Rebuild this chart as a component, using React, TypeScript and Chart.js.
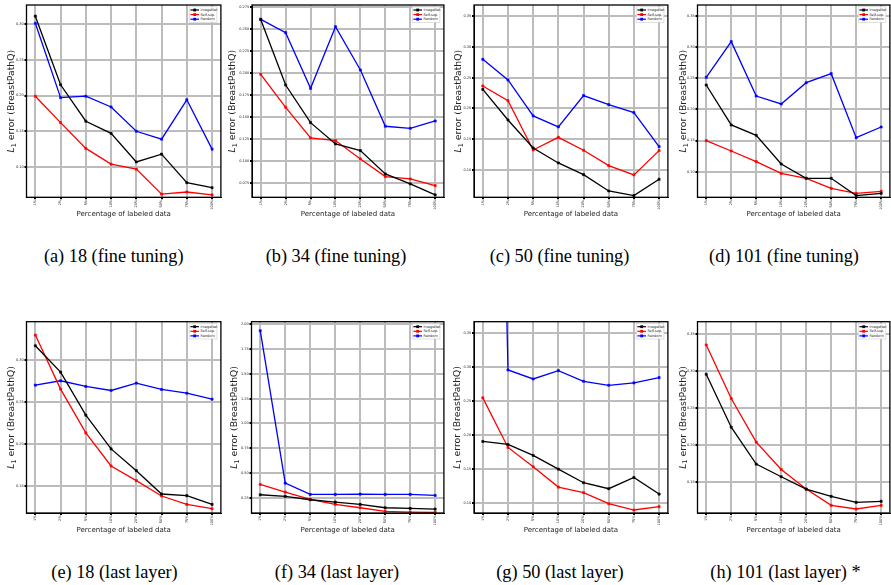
import React, { useEffect, useRef } from 'react';
import { Chart, registerables } from 'chart.js';
Chart.register(...registerables);

// ---------- data ----------
const percentLabels = ['1%', '2%', '5%', '10%', '20%', '50%', '75%', '100%'];
const seriesNames = ['ImageNet', 'Self-sup.', 'Random'];
const seriesColors = ['#000000', '#ff0000', '#0000ff'];

// (a) 18 (fine tuning)
const imagenetA = [0.311, 0.215, 0.164, 0.147, 0.107, 0.118, 0.078, 0.071];
const selfSupA = [0.199, 0.162, 0.126, 0.104, 0.097, 0.062, 0.065, 0.061];
const randomA = [0.301, 0.197, 0.199, 0.184, 0.150, 0.139, 0.194, 0.125];
const yTicksA = [0.1, 0.15, 0.2, 0.25, 0.3];
const yRangeA = [0.0576, 0.3266];

// (b) 34 (fine tuning)
const imagenetB = [0.2613, 0.1866, 0.1437, 0.1195, 0.1119, 0.0853, 0.074, 0.0614];
const selfSupB = [0.1988, 0.1612, 0.1263, 0.1233, 0.1024, 0.0823, 0.0796, 0.072];
const randomB = [0.2613, 0.2462, 0.1828, 0.253, 0.2037, 0.1396, 0.1373, 0.1456];
const yTicksB = [0.075, 0.1, 0.125, 0.15, 0.175, 0.2, 0.225, 0.25, 0.275];
const yRangeB = [0.0587, 0.2777];

// (c) 50 (fine tuning)
const imagenetC = [0.2312, 0.1813, 0.1358, 0.1114, 0.0924, 0.0658, 0.0582, 0.0848];
const selfSupC = [0.2367, 0.2128, 0.1325, 0.1531, 0.132, 0.107, 0.0919, 0.1315];
const randomC = [0.28, 0.2464, 0.1879, 0.17, 0.221, 0.2063, 0.1933, 0.138];
const yTicksC = [0.1, 0.15, 0.2, 0.25, 0.3, 0.35];
const yRangeC = [0.0555, 0.3684];

// (d) 101 (fine tuning)
const imagenetD = [0.2392, 0.175, 0.1584, 0.1123, 0.0893, 0.0893, 0.0615, 0.0652];
const selfSupD = [0.1498, 0.1332, 0.1161, 0.0973, 0.0893, 0.0732, 0.0652, 0.0684];
const randomD = [0.2515, 0.3088, 0.2215, 0.2087, 0.2429, 0.2574, 0.1546, 0.1717];
const yTicksD = [0.1, 0.15, 0.2, 0.25, 0.3, 0.35];
const yRangeD = [0.0588, 0.3677];

// (e) 18 (last layer)
const imagenetE = [0.3172, 0.2856, 0.2342, 0.1939, 0.1679, 0.14, 0.138, 0.1276];
const selfSupE = [0.3299, 0.2653, 0.213, 0.1735, 0.156, 0.1376, 0.1276, 0.1224];
const randomE = [0.2701, 0.2753, 0.2685, 0.2637, 0.2725, 0.2649, 0.2605, 0.2533];
const yTicksE = [0.15, 0.2, 0.25, 0.3];
const yRangeE = [0.1173, 0.3459];

// (f) 34 (last layer)
const imagenetF = [0.2796, 0.263, 0.229, 0.2057, 0.182, 0.1485, 0.1418, 0.135];
const selfSupF = [0.3837, 0.3065, 0.2325, 0.182, 0.1485, 0.1115, 0.105, 0.1015];
const randomF = [1.936, 0.397, 0.283, 0.283, 0.2863, 0.283, 0.283, 0.2729];
const yTicksF = [0.25, 0.5, 0.75, 1.0, 1.25, 1.5, 1.75, 2.0];
const yRangeF = [0.0954, 2.027];

// (g) 50 (last layer)
const imagenetG = [0.1907, 0.1863, 0.1701, 0.15, 0.1299, 0.1211, 0.1377, 0.1132];
const selfSupG = [0.2549, 0.1819, 0.1534, 0.1235, 0.1152, 0.099, 0.0897, 0.0946];
const randomG = [1.95, 0.2961, 0.2828, 0.2951, 0.2794, 0.2735, 0.277, 0.2848];
const yTicksG = [0.1, 0.15, 0.2, 0.25, 0.3, 0.35];
const yRangeG = [0.0853, 0.3672];

// (h) 101 (last layer) *
const imagenetH = [0.2959, 0.2243, 0.1743, 0.1572, 0.1405, 0.1306, 0.1225, 0.1239];
const selfSupH = [0.3356, 0.2631, 0.2041, 0.1671, 0.1405, 0.1185, 0.1135, 0.1185];
const randomH: number[] = [];
const yTicksH = [0.15, 0.2, 0.25, 0.3, 0.35];
const yRangeH = [0.1081, 0.3671];

const captions = [
  '(a) 18 (fine tuning)', '(b) 34 (fine tuning)', '(c) 50 (fine tuning)', '(d) 101 (fine tuning)',
  '(e) 18 (last layer)', '(f) 34 (last layer)', '(g) 50 (last layer)', '(h) 101 (last layer) *',
];

// ---------- layout ----------
const FONT = '"DejaVu Sans", sans-serif';
const GRID = '#bcbcbc';
const panels = [
  { series: [imagenetA, selfSupA, randomA], ticks: yTicksA, range: yRangeA, dec: 2, left: 26.5, top: 5, w: 195, h: 192.3, yOff: 14.8, cx: 113.7, cy: 255.5 },
  { series: [imagenetB, selfSupB, randomB], ticks: yTicksB, range: yRangeB, dec: 3, left: 252, top: 5, w: 192.5, h: 192.3, yOff: 19.5, cx: 336, cy: 255.5 },
  { series: [imagenetC, selfSupC, randomC], ticks: yTicksC, range: yRangeC, dec: 2, left: 474, top: 5, w: 194, h: 192.3, yOff: 15, cx: 559.5, cy: 255.5 },
  { series: [imagenetD, selfSupD, randomD], ticks: yTicksD, range: yRangeD, dec: 2, left: 697.5, top: 5, w: 192.5, h: 192.3, yOff: 14, cx: 784, cy: 255.5 },
  { series: [imagenetE, selfSupE, randomE], ticks: yTicksE, range: yRangeE, dec: 2, left: 26.5, top: 321.7, w: 195, h: 191.3, yOff: 14.8, cx: 114.5, cy: 571.5 },
  { series: [imagenetF, selfSupF, randomF], ticks: yTicksF, range: yRangeF, dec: 2, left: 251.5, top: 321.7, w: 193, h: 191.3, yOff: 16.5, cx: 337, cy: 571.5 },
  { series: [imagenetG, selfSupG, randomG], ticks: yTicksG, range: yRangeG, dec: 2, left: 474, top: 321.7, w: 194, h: 191.3, yOff: 16.7, cx: 560, cy: 571.5 },
  { series: [imagenetH, selfSupH, randomH], ticks: yTicksH, range: yRangeH, dec: 2, left: 697.5, top: 321.7, w: 192.5, h: 191.3, yOff: 14.2, cx: 785.5, cy: 571.5 },
];

const decorPlugin = {
  id: 'decor',
  afterDraw(chart: any, _args: any, opts: any) {
    const ctx = chart.ctx;
    const a = chart.chartArea;
    ctx.save();
    // frame
    ctx.strokeStyle = '#000';
    ctx.lineWidth = 1.3;
    ctx.strokeRect(a.left, a.top, a.right - a.left, a.bottom - a.top);
    // legend
    const bw = 27.7, bh = 15.5;
    const bx = a.right - 4 - bw, by = a.top + 1.8;
    ctx.fillStyle = 'rgba(255,255,255,0.85)';
    ctx.fillRect(bx, by, bw, bh);
    ctx.strokeStyle = '#cccccc';
    ctx.lineWidth = 0.6;
    ctx.strokeRect(bx, by, bw, bh);
    ctx.font = `3.5px ${FONT}`;
    ctx.textBaseline = 'middle';
    ctx.textAlign = 'left';
    seriesNames.forEach((name, i) => {
      const y = by + 3.2 + i * 4.6;
      ctx.strokeStyle = seriesColors[i];
      ctx.lineWidth = 1.2;
      ctx.beginPath();
      ctx.moveTo(bx + 1.2, y);
      ctx.lineTo(bx + 9.8, y);
      ctx.stroke();
      ctx.fillStyle = seriesColors[i];
      ctx.fillRect(bx + 5.5 - 1.4, y - 1.4, 2.8, 2.8);
      ctx.fillStyle = '#333';
      ctx.fillText(name, bx + 11.2, y);
    });
    // y title with italic L and subscript 1
    const f = 9.3;
    ctx.translate(a.left - opts.yOff, (a.top + a.bottom) / 2);
    ctx.rotate(-Math.PI / 2);
    ctx.font = `italic ${f}px ${FONT}`;
    const wL = ctx.measureText('L').width;
    ctx.font = `${f * 0.7}px ${FONT}`;
    const w1 = ctx.measureText('1').width;
    ctx.font = `${f}px ${FONT}`;
    const rest = ' error (BreastPathQ)';
    const wR = ctx.measureText(rest).width;
    let x = -(wL + w1 + wR) / 2;
    ctx.fillStyle = '#222';
    ctx.font = `italic ${f}px ${FONT}`;
    ctx.fillText('L', x, 0);
    x += wL;
    ctx.font = `${f * 0.7}px ${FONT}`;
    ctx.fillText('1', x, f * 0.25);
    x += w1;
    ctx.font = `${f}px ${FONT}`;
    ctx.fillText(rest, x, 0);
    ctx.restore();
  },
};

function Panel({ p }: { p: any }) {
  const ref = useRef<HTMLCanvasElement>(null);
  const wy = p.yOff + 7;
  const cLeft = Math.round(p.left - wy);
  const yW = p.left - cLeft;
  const cTop = Math.floor(p.top - 3);
  const padTop = p.top - cTop;
  const xH = 21;
  const cW = Math.ceil(yW + p.w + 1.5);
  const padRight = cW - yW - p.w;
  const cH = Math.ceil(padTop + p.h + xH);
  const padBottom = cH - padTop - p.h - xH;

  useEffect(() => {
    const canvas = ref.current!;
    const chart = new Chart(canvas, {
      type: 'line',
      data: {
        datasets: p.series.map((vals: number[], i: number) => ({
          label: seriesNames[i],
          data: vals.map((v, j) => ({ x: j, y: v })),
          borderColor: seriesColors[i],
          backgroundColor: seriesColors[i],
          borderWidth: 1.3,
          pointStyle: 'rect',
          pointRadius: 1.5,
          pointBorderWidth: 0.6,
          pointHoverRadius: 1.5,
          tension: 0,
        })),
      },
      options: {
        animation: false,
        responsive: false,
        devicePixelRatio: 1,
        events: [],
        layout: { padding: { top: padTop, right: padRight, left: 0, bottom: padBottom } },
        plugins: {
          legend: { display: false },
          tooltip: { enabled: false },
          decor: { yOff: p.yOff },
        } as any,
        scales: {
          x: {
            type: 'linear',
            min: -0.35,
            max: 7.35,
            afterBuildTicks: (s: any) => {
              s.ticks = percentLabels.map((_, i) => ({ value: i }));
            },
            afterFit: (s: any) => {
              s.height = xH;
            },
            ticks: {
              callback: (v: any) => percentLabels[v] ?? '',
              font: { family: FONT, size: 3.5 },
              color: '#222',
              padding: 0.5,
              minRotation: 90,
              maxRotation: 90,
              autoSkip: false,
            },
            grid: { color: GRID, lineWidth: 2, tickColor: '#000', tickLength: 2, drawTicks: true },
            border: { display: true, color: '#000', width: 1 },
            title: {
              display: true,
              text: 'Percentage of labeled data',
              font: { family: FONT, size: 7 },
              color: '#222',
              padding: { top: 0, bottom: 0 },
            },
          },
          y: {
            type: 'linear',
            min: p.range[0],
            max: p.range[1],
            afterBuildTicks: (s: any) => {
              s.ticks = p.ticks.map((v: number) => ({ value: v }));
            },
            afterFit: (s: any) => {
              s.width = yW;
            },
            ticks: {
              callback: (v: any) => Number(v).toFixed(p.dec),
              font: { family: FONT, size: 3.5 },
              color: '#222',
              padding: 0.8,
              autoSkip: false,
            },
            grid: { color: GRID, lineWidth: 2, tickColor: '#000', tickLength: 2, drawTicks: true },
            border: { display: true, color: '#000', width: 1 },
          },
        },
      } as any,
      plugins: [decorPlugin],
    });
    return () => chart.destroy();
  }, []);

  return (
    <canvas
      ref={ref}
      width={cW}
      height={cH}
      style={{ position: 'absolute', left: cLeft, top: cTop, width: cW, height: cH }}
    />
  );
}

export default function App() {
  return (
    <div style={{ position: 'absolute', left: 0, top: 0, width: 891, height: 585, background: '#fff', overflow: 'hidden' }}>
      {panels.map((p, i) => (
        <Panel key={i} p={p} />
      ))}
      {panels.map((p, i) => (
        <div
          key={'c' + i}
          style={{
            position: 'absolute',
            left: p.cx - 130,
            top: p.cy - 11,
            width: 260,
            height: 22,
            lineHeight: '22px',
            textAlign: 'center',
            whiteSpace: 'nowrap',
            fontFamily: '"Liberation Serif", "Times New Roman", serif',
            fontSize: 18.3,
            color: '#000',
          }}
        >
          {captions[i]}
        </div>
      ))}
    </div>
  );
}
